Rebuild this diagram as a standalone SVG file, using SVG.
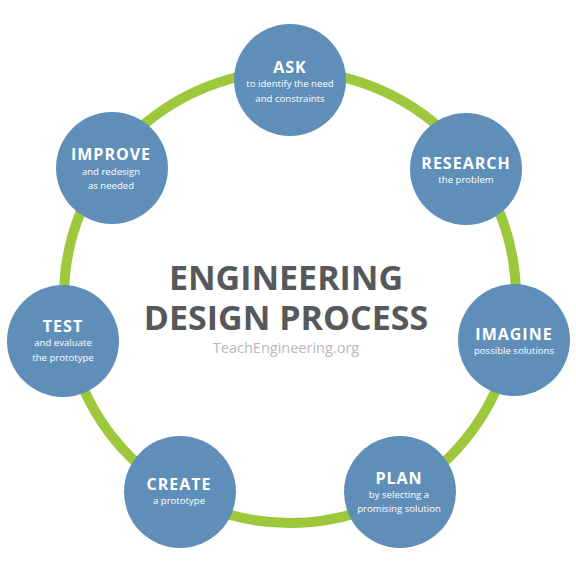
<svg xmlns="http://www.w3.org/2000/svg" width="576" height="576" viewBox="0 0 576 576">
<style>
.node circle{fill:#5f8fb9;}
.t{font-family:"Open Sans","Liberation Sans",sans-serif;font-weight:700;font-size:16px;letter-spacing:1px;fill:#fff;text-anchor:middle;}
.s{font-family:"Open Sans","Liberation Sans",sans-serif;font-size:9.6px;fill:#fff;text-anchor:middle;}
.h{font-family:"Open Sans","Liberation Sans",sans-serif;font-weight:700;font-size:34px;fill:#55595c;text-anchor:middle;}
.w{font-family:"Open Sans","Liberation Sans",sans-serif;font-size:14.5px;fill:#b8b8b8;text-anchor:middle;}
</style>
<rect width="576" height="576" fill="#fff"/>
<g id="connectors">
<circle cx="290" cy="297" r="226" fill="none" stroke="#9dc83b" stroke-width="10"/>
</g>
<g id="title">
<text class="h" x="286" y="290">ENGINEERING</text>
<text class="h" x="286" y="330">DESIGN PROCESS</text>
<text class="w" x="286" y="353">TeachEngineering.org</text>
</g>
<g id="ask" class="node">
<circle cx="290" cy="80" r="56"/>
<text class="t" x="290" y="73">ASK</text>
<text class="s" x="290" y="87">to identify the need</text>
<text class="s" x="290" y="102">and constraints</text>
</g>
<g id="research" class="node">
<circle cx="466" cy="169" r="56"/>
<text class="t" x="466" y="169">RESEARCH</text>
<text class="s" x="466" y="183">the problem</text>
</g>
<g id="imagine" class="node">
<circle cx="514" cy="340" r="56"/>
<text class="t" x="514" y="340">IMAGINE</text>
<text class="s" x="514" y="354">possible solutions</text>
</g>
<g id="plan" class="node">
<circle cx="400" cy="492" r="56"/>
<text class="t" x="399" y="484">PLAN</text>
<text class="s" x="399" y="498">by selecting a</text>
<text class="s" x="399" y="512">promising solution</text>
</g>
<g id="create" class="node">
<circle cx="180" cy="492" r="56"/>
<text class="t" x="179" y="490">CREATE</text>
<text class="s" x="179" y="504">a prototype</text>
</g>
<g id="test" class="node">
<circle cx="63" cy="341" r="56"/>
<text class="t" x="63" y="332">TEST</text>
<text class="s" x="63" y="346">and evaluate</text>
<text class="s" x="63" y="361">the prototype</text>
</g>
<g id="improve" class="node">
<circle cx="112" cy="168" r="56"/>
<text class="t" x="111" y="160">IMPROVE</text>
<text class="s" x="111" y="175">and redesign</text>
<text class="s" x="111" y="189">as needed</text>
</g>
</svg>
